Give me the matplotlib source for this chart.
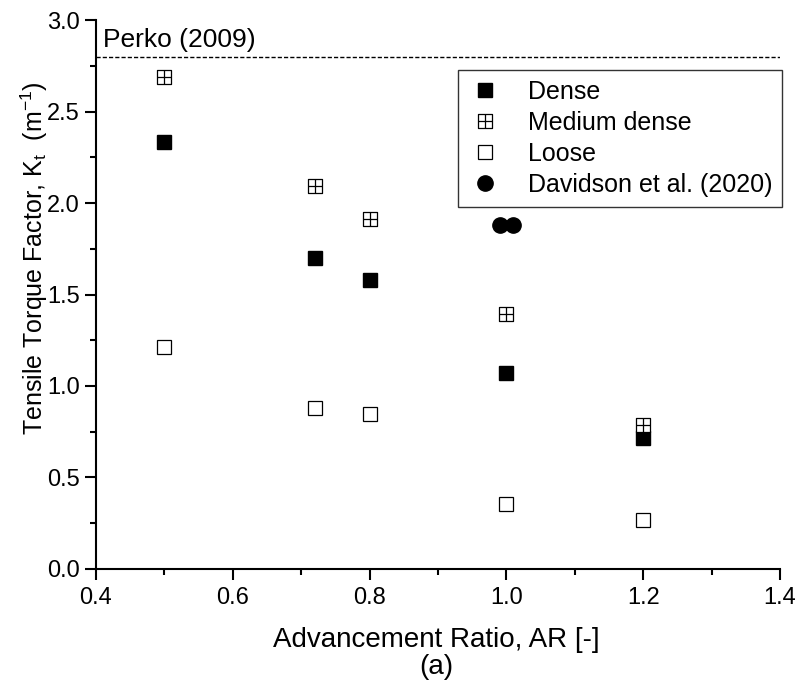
import matplotlib
matplotlib.use("Agg")
import matplotlib.pyplot as plt
from matplotlib.path import Path
from matplotlib.ticker import MultipleLocator

plt.rcParams['font.family'] = ['Liberation Sans', 'DejaVu Sans']
plt.rcParams['mathtext.fontset'] = 'custom'
plt.rcParams['mathtext.rm'] = 'Liberation Sans'
plt.rcParams['mathtext.it'] = 'Liberation Sans'

ar = [0.5, 0.72, 0.8, 1.0, 1.2]
dense = [2.335, 1.70, 1.58, 1.07, 0.716]
medium_dense = [2.69, 2.094, 1.914, 1.394, 0.787]
loose = [1.214, 0.88, 0.847, 0.355, 0.268]
davidson_ar = [0.99, 1.01]
davidson_kt = [1.88, 1.88]
perko_kt = 2.8

# square with a cross inside, for the medium dense points
boxplus = Path(
    [(-1, -1), (1, -1), (1, 1), (-1, 1), (-1, -1),
     (0, -1), (0, 1), (-1, 0), (1, 0)],
    [Path.MOVETO, Path.LINETO, Path.LINETO, Path.LINETO, Path.CLOSEPOLY,
     Path.MOVETO, Path.LINETO, Path.MOVETO, Path.LINETO])

fig = plt.figure(figsize=(8, 6.91), dpi=100)
ax = fig.add_axes([0.12, 0.1766, 0.855, 0.7944])

ax.plot(ar, dense, 's', color='black', markersize=10, label='Dense')
ax.plot(ar, medium_dense, marker=boxplus, ls='none', markersize=10,
        markerfacecolor='white', markeredgecolor='black', markeredgewidth=0.9,
        label='Medium dense')
ax.plot(ar, loose, 's', markersize=10, markerfacecolor='white',
        markeredgecolor='black', markeredgewidth=0.9, label='Loose')
ax.plot(davidson_ar, davidson_kt, 'o', color='black', markersize=11,
        label='Davidson et al. (2020)')

ax.axhline(perko_kt, color='black', ls=(0, (3, 1.5)), lw=1)
ax.text(0.41, perko_kt + 0.025, 'Perko (2009)', fontsize=19, va='bottom')

ax.set_xlim(0.4, 1.4)
ax.set_ylim(0, 3.0)
ax.xaxis.set_major_locator(MultipleLocator(0.2))
ax.xaxis.set_minor_locator(MultipleLocator(0.1))
ax.yaxis.set_major_locator(MultipleLocator(0.5))
ax.yaxis.set_minor_locator(MultipleLocator(0.25))
ax.xaxis.set_major_formatter(plt.FormatStrFormatter('%.1f'))
ax.yaxis.set_major_formatter(plt.FormatStrFormatter('%.1f'))

ax.spines['top'].set_visible(False)
ax.spines['right'].set_visible(False)
ax.spines['left'].set_linewidth(1.5)
ax.spines['bottom'].set_linewidth(1.5)
ax.tick_params(which='major', direction='out', length=8, width=1.5, labelsize=17)
ax.tick_params(which='minor', direction='out', length=4, width=1.5)
ax.tick_params(axis='x', which='major', pad=5)

ax.set_xlabel('Advancement Ratio, AR [-]\n(a)', fontsize=20, linespacing=1.05)
ax.xaxis.set_label_coords(0.498, -0.106)
ax.set_ylabel('Tensile Torque Factor, K$_t$  (m$^{-1}$)', fontsize=18)
ax.yaxis.set_label_coords(-0.067, 0.566)

leg = ax.legend(loc='upper right', bbox_to_anchor=(1.0035, 0.909), fontsize=18,
                frameon=True, fancybox=False, edgecolor='black',
                handlelength=1.4, handletextpad=1.0, labelspacing=0.28,
                borderpad=0.4, borderaxespad=0)
leg.get_frame().set_linewidth(1.0)

fig.savefig('out.png', dpi=100)
